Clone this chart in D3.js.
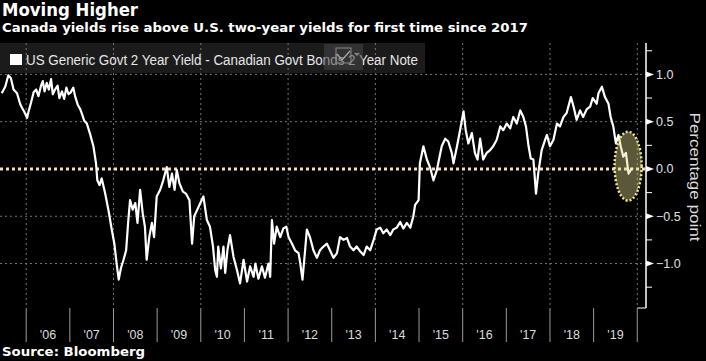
<!DOCTYPE html>
<html>
<head>
<meta charset="utf-8">
<script src="https://cdn.jsdelivr.net/npm/d3@7/dist/d3.min.js"></script>
<style>
  body { margin: 0; background: #000; }
  svg { display: block; }
</style>
</head>
<body>
<div id="chart"></div>
<script>
// US 2y minus Canada 2y spread (decimal year, percentage point)
const years = [
  2005.44, 2005.52, 2005.59, 2005.65, 2005.71, 2005.79, 2005.86, 2005.90, 2005.95, 2006.02,
  2006.05, 2006.11, 2006.17, 2006.23, 2006.28, 2006.34, 2006.38, 2006.42, 2006.47, 2006.52,
  2006.57, 2006.61, 2006.66, 2006.72, 2006.76, 2006.82, 2006.87, 2006.92, 2006.97, 2007.02,
  2007.08, 2007.12, 2007.18, 2007.24, 2007.28, 2007.33,
  2007.39, 2007.47,
  2007.54, 2007.60, 2007.63, 2007.68, 2007.73, 2007.81, 2007.89, 2007.96, 2008.02, 2008.08,
  2008.12, 2008.17, 2008.23, 2008.29, 2008.34, 2008.38, 2008.44, 2008.50, 2008.55, 2008.61,
  2008.67, 2008.72, 2008.76, 2008.82, 2008.88, 2008.93, 2008.99, 2009.07, 2009.14, 2009.22,
  2009.28, 2009.34, 2009.40, 2009.45, 2009.51, 2009.59, 2009.66, 2009.74, 2009.80, 2009.85,
  2009.92, 2009.99, 2010.06, 2010.14, 2010.21, 2010.28, 2010.33, 2010.37, 2010.40, 2010.46,
  2010.52, 2010.56, 2010.61, 2010.67, 2010.75, 2010.83, 2010.90, 2010.98, 2011.06, 2011.13,
  2011.21, 2011.25, 2011.32, 2011.40, 2011.47, 2011.55, 2011.59, 2011.63, 2011.68, 2011.74,
  2011.82, 2011.89, 2011.96, 2012.01, 2012.09, 2012.16, 2012.24, 2012.28, 2012.33, 2012.39,
  2012.43, 2012.50, 2012.58, 2012.66, 2012.73, 2012.81, 2012.89, 2012.96, 2013.04, 2013.12,
  2013.19, 2013.27, 2013.35, 2013.42, 2013.50, 2013.57, 2013.65, 2013.73, 2013.80, 2013.88,
  2013.96, 2014.03, 2014.11, 2014.18, 2014.26, 2014.34, 2014.41, 2014.49, 2014.57, 2014.64,
  2014.72, 2014.80, 2014.87, 2014.91, 2014.99, 2015.02, 2015.10, 2015.18, 2015.25, 2015.33,
  2015.41, 2015.44, 2015.52, 2015.60, 2015.67, 2015.75, 2015.79, 2015.87, 2015.94, 2016.02,
  2016.07, 2016.13, 2016.21, 2016.28, 2016.34, 2016.40, 2016.47, 2016.55, 2016.63, 2016.70,
  2016.78, 2016.86, 2016.93, 2017.01, 2017.09, 2017.16, 2017.24, 2017.32, 2017.39, 2017.45,
  2017.51, 2017.56, 2017.62, 2017.68, 2017.73, 2017.81, 2017.89, 2017.93, 2018.00, 2018.08,
  2018.16, 2018.23, 2018.31, 2018.38, 2018.48, 2018.54, 2018.61, 2018.69, 2018.76, 2018.84,
  2018.92, 2018.98, 2019.07, 2019.11, 2019.19, 2019.26, 2019.34, 2019.39, 2019.45, 2019.51,
  2019.57, 2019.62, 2019.68, 2019.74, 2019.80, 2019.85, 2019.90
];
const spread = [
  0.80, 0.87, 0.99, 0.96, 0.84, 0.80, 0.69, 0.65, 0.61, 0.54,
  0.60, 0.70, 0.81, 0.84, 0.77, 0.88, 0.93, 0.82, 0.91, 0.84,
  0.95, 0.79, 0.84, 0.88, 0.75, 0.82, 0.74, 0.86, 0.79, 0.81,
  0.86, 0.77, 0.68, 0.63, 0.58, 0.51,
  0.48, 0.36,
  0.24, 0.06, -0.12, -0.17, -0.10, -0.26, -0.45, -0.64, -0.79, -1.03,
  -1.17, -1.05, -0.96, -0.86, -0.54, -0.33, -0.43, -0.36, -0.57, -0.22,
  -0.47, -0.61, -0.96, -0.72, -0.57, -0.72, -0.29, -0.22, -0.12, 0.02,
  -0.19, -0.05, -0.22, -0.01, -0.15, -0.24, -0.26, -0.33, -0.79, -0.50,
  -0.43, -0.36, -0.29, -0.54, -0.61, -0.82, -1.07, -1.14, -0.82, -1.05,
  -0.82, -1.10, -0.86, -0.70, -0.93, -1.07, -1.21, -0.96, -1.19, -1.03,
  -1.14, -1.00, -1.16, -1.03, -1.15, -1.00, -1.14, -0.54, -0.79, -0.61,
  -0.72, -0.63, -0.61, -0.72, -0.79, -0.86, -0.89, -1.00, -1.17, -0.86,
  -0.64, -0.72, -0.86, -0.94, -0.86, -0.82, -0.79, -0.86, -0.94, -0.89,
  -0.72, -0.75, -0.73, -0.82, -0.86, -0.82, -0.87, -0.91, -0.82, -0.86,
  -0.75, -0.64, -0.62, -0.68, -0.64, -0.70, -0.64, -0.62, -0.56, -0.63,
  -0.57, -0.62, -0.50, -0.38, -0.33, 0.06, 0.24, 0.10, 0.02, -0.12,
  -0.01, 0.06, 0.24, 0.32, 0.29, 0.17, 0.06, 0.24, 0.41, 0.61,
  0.41, 0.27, 0.38, 0.17, 0.10, 0.32, 0.10, 0.17, 0.20, 0.24,
  0.31, 0.45, 0.41, 0.48, 0.43, 0.55, 0.48, 0.62, 0.55, 0.45,
  0.24, 0.11, 0.10, -0.26, -0.05, 0.20, 0.31, 0.36, 0.24, 0.31,
  0.48, 0.45, 0.55, 0.59, 0.76, 0.66, 0.52, 0.62, 0.55, 0.63,
  0.66, 0.75, 0.69, 0.80, 0.87, 0.76, 0.69, 0.55, 0.45, 0.27,
  0.36, 0.24, 0.13, 0.17, -0.05, -0.01, 0.01
];

const yMajorTicks = [1.0, 0.5, 0.0, -0.5, -1.0];
const yMinorTicks = [1.25, 0.75, 0.25, -0.25, -0.75, -1.25];
const gridValues = [1.0, 0.5, -0.5, -1.0];
const yearStarts = [2006, 2007, 2008, 2009, 2010, 2011, 2012, 2013, 2014, 2015, 2016, 2017, 2018, 2019];
const yearLabels = ["'06", "'07", "'08", "'09", "'10", "'11", "'12", "'13", "'14", "'15", "'16", "'17", "'18", "'19"];
const gridYears = [2006, 2008, 2010, 2012, 2014, 2016, 2018, 2020];

// highlighted area around the latest crossing
const highlight = { year: 2019.79, value: 0.03, halfYears: 0.31, halfValue: 0.365 };

const titleText = 'Moving Higher';
const subtitleText = 'Canada yields rise above U.S. two-year yields for first time since 2017';
const legendText = 'US Generic Govt 2 Year Yield - Canadian Govt Bonds 2 Year Note';
const axisTitle = 'Percentage point';
const sourceText = 'Source: Bloomberg';

//
// Set-up
//
const W = 706, H = 361;
const plot = { left: 0, right: 646, top: 43, bottom: 308 };
const boldFont = "'DejaVu Sans', Verdana, sans-serif";
const regFont = "'Liberation Sans', Arial, sans-serif";

const svg = d3.select('#chart').append('svg')
  .attr('width', W)
  .attr('height', H)
  .style('background', '#000');

const x = d3.scaleLinear()
  .domain([2005.40, 2020.20])
  .range([plot.left, plot.right]);

const y = d3.scaleLinear()
  .domain([-1.47, 1.332])
  .range([plot.bottom, plot.top]);

const data = years.map((t, i) => ({ t, v: spread[i] }));

// titles
svg.append('text')
  .attr('x', 2).attr('y', 16)
  .style('font-family', boldFont).style('font-weight', 700).style('font-size', '17.5px')
  .attr('fill', '#fff')
  .attr('textLength', 136).attr('lengthAdjust', 'spacingAndGlyphs')
  .text(titleText);

svg.append('text')
  .attr('x', 2).attr('y', 32)
  .style('font-family', boldFont).style('font-weight', 700).style('font-size', '13px')
  .attr('fill', '#fff')
  .attr('textLength', 526).attr('lengthAdjust', 'spacingAndGlyphs')
  .text(subtitleText);

// legend backdrop
svg.append('rect')
  .attr('x', 0).attr('y', plot.top)
  .attr('width', 425).attr('height', 30)
  .attr('fill', '#1b1b1b');

//
// Gridlines
//
const grid = svg.append('g').attr('class', 'grid');

grid.selectAll('line.h')
  .data(gridValues)
  .enter().append('line')
  .attr('class', 'h')
  .attr('x1', plot.left).attr('x2', plot.right)
  .attr('y1', d => y(d)).attr('y2', d => y(d))
  .attr('stroke', '#777').attr('stroke-width', 1)
  .attr('stroke-dasharray', '2,3');

grid.selectAll('line.v')
  .data(gridYears)
  .enter().append('line')
  .attr('class', 'v')
  .attr('x1', d => x(d)).attr('x2', d => x(d))
  .attr('y1', plot.top).attr('y2', plot.bottom)
  .attr('stroke', '#777').attr('stroke-width', 1)
  .attr('stroke-dasharray', '2,3');

// zero line
svg.append('line')
  .attr('x1', plot.left).attr('x2', plot.right)
  .attr('y1', y(0)).attr('y2', y(0))
  .attr('stroke', '#f6dcb8').attr('stroke-width', 3)
  .attr('stroke-dasharray', '3,3');

//
// Series
//
const line = d3.line()
  .x(d => x(d.t))
  .y(d => y(d.v));

svg.append('path')
  .datum(data)
  .attr('d', line)
  .attr('fill', 'none')
  .attr('stroke', '#fff')
  .attr('stroke-width', 2.2)
  .attr('stroke-linejoin', 'round');

// highlight ellipse
svg.append('ellipse')
  .attr('cx', x(highlight.year))
  .attr('cy', y(highlight.value))
  .attr('rx', x(highlight.year + highlight.halfYears) - x(highlight.year))
  .attr('ry', y(highlight.value - highlight.halfValue) - y(highlight.value))
  .attr('fill', 'rgba(224,220,140,0.4)')
  .attr('stroke', '#f2e38e')
  .attr('stroke-width', 2.5)
  .attr('stroke-dasharray', '2,2');

//
// Legend
//
svg.append('rect')
  .attr('x', 10).attr('y', 54)
  .attr('width', 12).attr('height', 11)
  .attr('fill', '#fff');

svg.append('text')
  .attr('x', 26).attr('y', 65)
  .style('font-family', regFont).style('font-size', '14px')
  .attr('fill', '#e6e6e6')
  .attr('textLength', 392).attr('lengthAdjust', 'spacingAndGlyphs')
  .text(legendText);

// little chart-type button sitting over the legend
const btn = svg.append('g').attr('transform', 'translate(324,44)');
btn.append('rect')
  .attr('width', 39).attr('height', 26)
  .attr('fill', 'rgba(70,70,70,0.55)');
btn.append('rect')
  .attr('x', 12).attr('y', 4).attr('width', 15).attr('height', 15)
  .attr('fill', 'none').attr('stroke', '#888').attr('stroke-width', 1);
btn.append('path')
  .attr('d', 'M13,10 L18,16 L26,7')
  .attr('fill', 'none').attr('stroke', '#aaa').attr('stroke-width', 1.2);
btn.append('path')
  .attr('d', 'M30,9 L36,9 L33,12 Z')
  .attr('fill', '#888');

//
// Right axis
//
const axis = svg.append('g').attr('class', 'y axis');

axis.append('line')
  .attr('x1', plot.right).attr('x2', plot.right)
  .attr('y1', plot.top).attr('y2', plot.bottom)
  .attr('stroke', '#fff').attr('stroke-width', 1.5);

axis.append('line')
  .attr('x1', x(2020)).attr('x2', plot.right)
  .attr('y1', plot.bottom).attr('y2', plot.bottom)
  .attr('stroke', '#fff').attr('stroke-width', 1);

axis.selectAll('line.minor')
  .data(yMinorTicks)
  .enter().append('line')
  .attr('class', 'minor')
  .attr('x1', plot.right).attr('x2', plot.right + 6)
  .attr('y1', d => y(d)).attr('y2', d => y(d))
  .attr('stroke', '#fff').attr('stroke-width', 1);

axis.selectAll('path.major')
  .data(yMajorTicks)
  .enter().append('path')
  .attr('class', 'major')
  .attr('d', d => `M${plot.right},${y(d) - 3} L${plot.right + 8},${y(d)} L${plot.right},${y(d) + 3} Z`)
  .attr('fill', '#fff');

axis.selectAll('text')
  .data(yMajorTicks)
  .enter().append('text')
  .attr('x', plot.right + 10)
  .attr('y', d => y(d))
  .attr('dy', '0.36em')
  .style('font-family', regFont).style('font-size', '12.5px')
  .attr('fill', '#e0e0e0')
  .text(d => d3.format('.1f')(d).replace('-', '\u2212'));

svg.append('text')
  .attr('transform', `translate(${690},${177}) rotate(90)`)
  .attr('text-anchor', 'middle')
  .style('font-family', regFont).style('font-size', '15px')
  .attr('fill', '#dcdcdc')
  .attr('textLength', 129).attr('lengthAdjust', 'spacingAndGlyphs')
  .text(axisTitle);

//
// Bottom axis (year bands)
//
const xAxis = svg.append('g').attr('class', 'x axis');

xAxis.selectAll('line')
  .data(yearStarts.concat([2020]))
  .enter().append('line')
  .attr('x1', d => x(d)).attr('x2', d => x(d))
  .attr('y1', plot.bottom).attr('y2', 342)
  .attr('stroke', '#9a9a9a').attr('stroke-width', 1);

xAxis.selectAll('text')
  .data(yearStarts)
  .enter().append('text')
  .attr('x', d => x(d + 0.5))
  .attr('y', 339)
  .attr('text-anchor', 'middle')
  .style('font-family', regFont).style('font-size', '12.5px')
  .attr('fill', '#dcdcdc')
  .text((d, i) => yearLabels[i]);

// source
svg.append('text')
  .attr('x', 2).attr('y', 356)
  .style('font-family', boldFont).style('font-weight', 700).style('font-size', '12px')
  .attr('fill', '#fff')
  .attr('textLength', 143).attr('lengthAdjust', 'spacingAndGlyphs')
  .text(sourceText);
</script>
</body>
</html>
